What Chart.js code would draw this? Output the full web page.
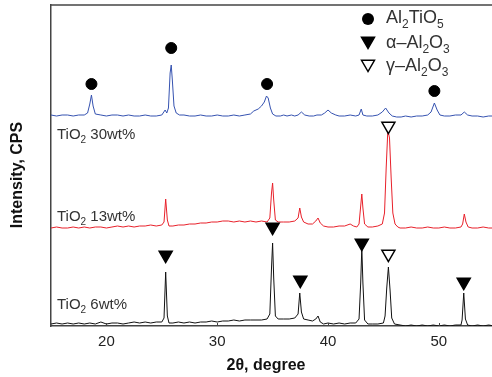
<!DOCTYPE html>
<html>
<head>
<meta charset="utf-8">
<script src="https://cdn.jsdelivr.net/npm/chart.js@4/dist/chart.umd.min.js"></script>
<style>
  html, body { margin: 0; padding: 0; background: #fff; }
  #wrap { width: 492px; height: 377px; }
</style>
</head>
<body>
<div id="wrap"><canvas id="xrd"></canvas></div>
<script>
// XRD patterns (2theta, intensity with offsets)
const xTicks = [20, 30, 40, 50];

const sampleNames = ['30wt%', '13wt%', '6wt%'];

const phaseNames = [
  [['Al', 0], ['2', 1], ['TiO', 0], ['5', 1]],
  [['\u03b1\u2013Al', 0], ['2', 1], ['O', 0], ['3', 1]],
  [['\u03b3\u2013Al', 0], ['2', 1], ['O', 0], ['3', 1]]
];

const tio2_30 = [
  [15, 213], [15.5, 212], [16, 213], [16.5, 213], [17, 212], [17.5, 213], [18, 213],
  [18.3, 215], [18.5, 224], [18.65, 233], [18.8, 222], [19.0, 214], [19.5, 213],
  [20, 212], [20.5, 213], [21, 213], [21.5, 212], [22, 213], [22.5, 212], [23, 212],
  [23.5, 213], [24, 212], [24.5, 212], [25, 213], [25.3, 218], [25.45, 215], [25.6, 220],
  [25.75, 255], [25.85, 263], [25.95, 248], [26.1, 222], [26.3, 215], [26.6, 213],
  [27, 213], [27.5, 212], [28, 212], [28.5, 213], [29, 212], [29.5, 212], [30, 213],
  [30.5, 212], [31, 212], [31.5, 213], [32, 212], [32.5, 213], [33, 214], [33.3, 217],
  [33.7, 219], [34.0, 222], [34.25, 226], [34.45, 232], [34.6, 230], [34.8, 220],
  [35.0, 214], [35.3, 212], [35.7, 212], [36, 213], [36.3, 212], [36.7, 213], [37, 212],
  [37.3, 213], [37.6, 216], [37.9, 213], [38.3, 212], [38.7, 212], [39, 213], [39.4, 213],
  [39.7, 215], [40, 218], [40.3, 215], [40.7, 213], [41, 212], [41.5, 212], [42, 213],
  [42.5, 212], [42.8, 213], [43.0, 219], [43.15, 213], [43.5, 212], [44, 212], [44.5, 213],
  [44.9, 216], [45.2, 220], [45.5, 215], [45.8, 212], [46.2, 211], [46.6, 211], [47, 212],
  [47.5, 211], [48, 212], [48.5, 212], [49, 213], [49.3, 216], [49.6, 225], [49.85, 218],
  [50.1, 213], [50.5, 212], [51, 212], [51.5, 213], [52, 213], [52.3, 216], [52.6, 213],
  [53, 212], [53.5, 212], [54, 211], [54.5, 212], [55, 212]
];

const tio2_13 = [
  [15, 100], [15.5, 101], [16, 100], [16.5, 100], [17, 101], [17.5, 100], [18, 101],
  [18.5, 100], [19, 101], [19.5, 101], [20, 100], [20.5, 101], [21, 102], [21.5, 101],
  [22, 102], [22.5, 101], [23, 102], [23.5, 102], [24, 103], [24.5, 102], [25, 103],
  [25.2, 106], [25.35, 129], [25.5, 108], [25.65, 102], [26, 102], [26.5, 103], [27, 103],
  [27.5, 104], [28, 104], [28.5, 105], [29, 105], [29.5, 106], [30, 106], [30.5, 107],
  [31, 107], [31.5, 106], [32, 107], [32.5, 106], [33, 107], [33.5, 106], [34, 107],
  [34.5, 106], [34.75, 110], [34.9, 135], [35.0, 145], [35.1, 128], [35.25, 108],
  [35.5, 106], [36, 106], [36.5, 106], [37, 107], [37.3, 110], [37.45, 120], [37.6, 111],
  [37.8, 106], [38.2, 104], [38.6, 104], [38.9, 107], [39.1, 110], [39.3, 105], [39.6, 102],
  [40, 101], [40.5, 101], [41, 102], [41.5, 102], [42, 104], [42.3, 102], [42.6, 101],
  [42.8, 104], [42.95, 122], [43.05, 134], [43.15, 120], [43.3, 104], [43.6, 101], [44, 101],
  [44.5, 102], [44.9, 104], [45.1, 115], [45.25, 160], [45.4, 198], [45.55, 190], [45.7, 150],
  [45.85, 115], [46.05, 104], [46.3, 101], [46.5, 100], [47, 100], [47.5, 101], [48, 100],
  [48.5, 100], [49, 101], [49.5, 100], [50, 100], [50.5, 101], [51, 100], [51.5, 100],
  [52, 101], [52.15, 104], [52.3, 114], [52.45, 106], [52.65, 101], [53, 100], [53.5, 100],
  [54, 101], [54.5, 100], [55, 100]
];

const tio2_6 = [
  [15, 4], [15.5, 5], [16, 4], [16.5, 5], [17, 4], [17.5, 5], [18, 4], [18.5, 5], [19, 4],
  [19.5, 6], [20, 4], [20.5, 5], [21, 5], [21.5, 4], [22, 5], [22.5, 6], [23, 5], [23.5, 6],
  [24, 5], [24.5, 6], [25, 6], [25.2, 10], [25.35, 56], [25.5, 12], [25.65, 5], [26, 5],
  [26.5, 6], [27, 5], [27.5, 6], [28, 5], [28.5, 6], [29, 6], [29.5, 7], [30, 6], [30.5, 7],
  [31, 7], [31.5, 8], [32, 7], [32.5, 8], [33, 8], [33.5, 8], [34, 8], [34.5, 9], [34.75, 14],
  [34.9, 60], [35.0, 85], [35.1, 50], [35.25, 12], [35.5, 9], [36, 9], [36.5, 9], [37, 10],
  [37.3, 14], [37.45, 35], [37.6, 16], [37.8, 9], [38.2, 8], [38.6, 7], [38.9, 9], [39.1, 12],
  [39.3, 6], [39.6, 4], [40, 5], [40.5, 4], [41, 5], [41.5, 4], [42, 5], [42.5, 5], [42.8, 9],
  [42.95, 45], [43.05, 80], [43.15, 45], [43.3, 8], [43.6, 4], [44, 4], [44.5, 4], [45, 5],
  [45.15, 12], [45.3, 40], [45.45, 61], [45.6, 38], [45.75, 10], [46, 4], [46.5, 3], [47, 2],
  [47.5, 3], [48, 2], [48.5, 3], [49, 2], [49.5, 3], [50, 2], [50.5, 3], [51, 2], [51.5, 3],
  [52, 3], [52.1, 8], [52.25, 35], [52.4, 9], [52.6, 3], [53, 2], [53.5, 3], [54, 2],
  [54.5, 3], [55, 2]
];

// phase marks placed over the peaks
const al2tio5Marks = [[18.65, 244], [25.85, 280], [34.5, 244], [49.6, 237]];
const alphaMarks = [[25.35, 73], [35.0, 101], [37.5, 48], [43.05, 85], [52.25, 46]];
const gammaMarks = [[45.45, 74], [45.45, 202]];

const FONT = '"Liberation Sans", Arial, sans-serif';

function xy(arr) {
  return arr.map(p => ({ x: p[0], y: p[1] }));
}

function drawRich(ctx, parts, x, y, size) {
  parts.forEach(([t, sub]) => {
    ctx.font = (sub ? Math.round(size * 0.66) : size) + 'px ' + FONT;
    ctx.fillText(t, x, y + (sub ? size * 0.27 : 0));
    x += ctx.measureText(t).width;
  });
}

function triangleDown(ctx, x, y, r, fill) {
  ctx.beginPath();
  ctx.moveTo(x, y + r);
  ctx.lineTo(x - r * 0.866, y - r / 2);
  ctx.lineTo(x + r * 0.866, y - r / 2);
  ctx.closePath();
  ctx.fillStyle = fill;
  ctx.fill();
  ctx.strokeStyle = '#000';
  ctx.lineWidth = 1.5;
  ctx.stroke();
}

const decorations = {
  id: 'decorations',
  afterDraw(chart) {
    const { ctx, chartArea: a, scales: { x } } = chart;
    ctx.save();
    // top frame line
    ctx.strokeStyle = '#444';
    ctx.lineWidth = 1.5;
    ctx.beginPath();
    ctx.moveTo(a.left, a.top);
    ctx.lineTo(a.right, a.top);
    ctx.stroke();
    // inward tick marks
    ctx.lineWidth = 1;
    ctx.beginPath();
    xTicks.forEach(v => {
      const px = Math.round(x.getPixelForValue(v)) + 0.5;
      ctx.moveTo(px, a.bottom);
      ctx.lineTo(px, a.bottom - 3);
    });
    ctx.stroke();

    // sample labels
    ctx.fillStyle = '#333';
    ctx.textBaseline = 'alphabetic';
    const labelY = [139, 221, 309];
    sampleNames.forEach((n, i) => {
      drawRich(ctx, [['TiO', 0], ['2', 1], [' ' + n, 0]], 57, labelY[i], 15);
    });

    // legend
    ctx.fillStyle = '#000';
    ctx.beginPath();
    ctx.arc(368, 19, 6, 0, Math.PI * 2);
    ctx.fill();
    triangleDown(ctx, 368, 41, 7.5, '#000');
    triangleDown(ctx, 368, 64, 7.5, '#fff');
    ctx.fillStyle = '#333';
    const legY = [23, 48, 71];
    phaseNames.forEach((parts, i) => drawRich(ctx, parts, 386, legY[i], 18));

    // axis titles
    ctx.fillStyle = '#111';
    ctx.font = 'bold 16px ' + FONT;
    ctx.textAlign = 'center';
    ctx.fillText('2\u03b8, degree', 266, 370);
    ctx.translate(22, 175);
    ctx.rotate(-Math.PI / 2);
    ctx.fillText('Intensity, CPS', 0, 0);
    ctx.restore();
  }
};

new Chart(document.getElementById('xrd'), {
  type: 'line',
  data: {
    datasets: [
      { data: xy(al2tio5Marks), showLine: false, pointStyle: 'circle', pointRadius: 5.5,
        backgroundColor: '#000', borderColor: '#000', order: 0 },
      { data: xy(alphaMarks), showLine: false, pointStyle: 'triangle', rotation: 180, pointRadius: 7.5,
        backgroundColor: '#000', borderColor: '#000', pointBorderWidth: 1.5, order: 0 },
      { data: xy(gammaMarks), showLine: false, pointStyle: 'triangle', rotation: 180, pointRadius: 7.5,
        backgroundColor: '#fff', borderColor: '#000', pointBorderWidth: 1.5, order: 0 },
      { label: 'TiO2 30wt%', data: xy(tio2_30), borderColor: '#3552b0', borderWidth: 1,
        pointRadius: 0, tension: 0, order: 1 },
      { label: 'TiO2 13wt%', data: xy(tio2_13), borderColor: '#e8202a', borderWidth: 1,
        pointRadius: 0, tension: 0, order: 1 },
      { label: 'TiO2 6wt%', data: xy(tio2_6), borderColor: '#111', borderWidth: 1,
        pointRadius: 0, tension: 0, order: 1 }
    ]
  },
  options: {
    responsive: true,
    maintainAspectRatio: false,
    animation: false,
    layout: { autoPadding: false, padding: { top: 5, right: 0, left: 0, bottom: 0 } },
    plugins: { legend: { display: false }, tooltip: { enabled: false } },
    scales: {
      x: {
        type: 'linear',
        min: 15,
        max: 54.8,
        afterBuildTicks: s => { s.ticks = xTicks.map(v => ({ value: v })); },
        afterFit: s => { s.height = 51; s.paddingRight = 0; s.paddingLeft = 0; },
        grid: { display: false, drawTicks: false },
        border: { display: true, color: '#444', width: 1.5 },
        ticks: { padding: 7, color: '#222', font: { family: FONT, size: 15 }, maxRotation: 0 }
      },
      y: {
        min: 2,
        max: 323,
        afterFit: s => { s.width = 51; },
        grid: { display: false, drawTicks: false },
        border: { display: true, color: '#444', width: 1.5 },
        ticks: { display: false }
      }
    }
  },
  plugins: [decorations]
});
</script>
</body>
</html>
